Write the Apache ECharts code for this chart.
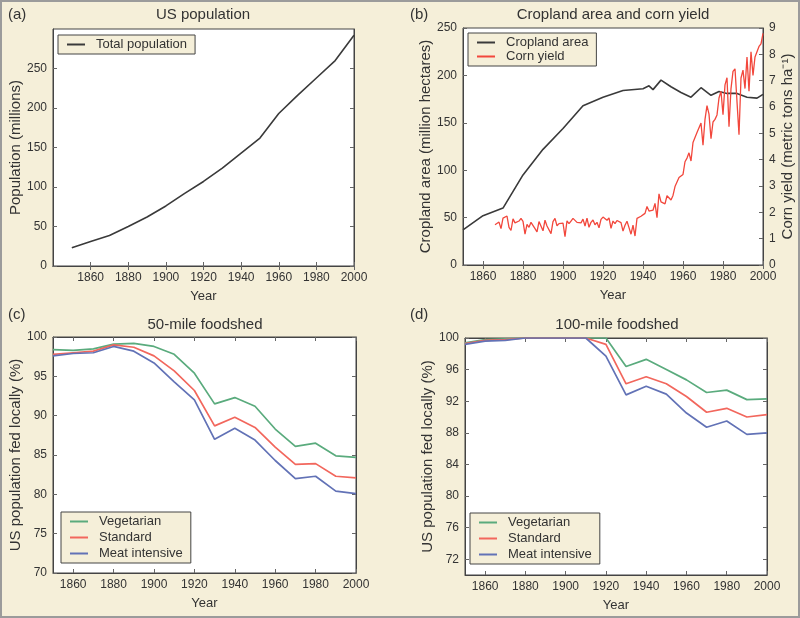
<!DOCTYPE html>
<html>
<head>
<meta charset="utf-8">
<script src="https://cdn.jsdelivr.net/npm/echarts@6/dist/echarts.min.js"></script>
<style>html,body{margin:0;padding:0;background:#f5efd9;}#c{width:800px;height:618px;}</style>
</head>
<body>
<div id="c"></div>
<script>
// ---------- DATA ----------
const decadeYears = [1850,1860,1870,1880,1890,1900,1910,1920,1930,1940,1950,1960,1970,1980,1990,2000];
const totalPopulation = [23,31,38.5,50,62,76,92,107,124,143,162,193,216,238,260,292];

const croplandYears = [1850,1860,1870,1880,1890,1900,1910,1920,1930,1940,1943,1945,1949,1954,1959,1964,1969,1974,1978,1982,1987,1992,1997,2000];
const croplandArea  = [37,52,60,95,122,144,168,177,184,186,189,185,195,188,182,177,187,179,183,181,181,177,176,180];

const cornFirstYear = 1866;
const cornYield = [
 1.53,1.48,1.63,1.38,1.78,1.75,1.86,1.43,1.31,1.75,
 1.60,1.60,1.67,1.77,1.66,1.17,1.54,1.43,1.62,1.66,
 1.38,1.26,1.65,1.70,1.30,1.70,1.48,1.42,1.19,1.65,
 1.77,1.49,1.57,1.63,1.59,1.08,1.68,1.57,1.67,1.77,
 1.84,1.62,1.60,1.60,1.74,1.48,1.78,1.43,1.62,1.71,
 1.53,1.62,1.41,1.73,1.82,1.78,1.70,1.79,1.39,1.67,
 1.57,1.69,1.65,1.61,1.29,1.51,1.66,1.42,1.17,1.51,
 1.10,1.77,1.74,1.85,1.81,1.96,2.22,2.05,2.07,2.08,
 2.34,1.80,2.70,2.40,2.40,2.32,2.63,2.56,2.47,2.64,
 2.98,3.03,3.32,3.33,3.44,3.92,4.06,4.26,3.95,4.65,
 4.59,5.03,4.99,5.39,4.55,5.53,6.05,5.73,4.80,5.43,
 5.53,5.70,6.34,6.60,5.71,6.84,7.11,5.25,6.70,7.35,
 7.45,7.45,4.95,7.10,7.40,6.70,7.90,6.60,8.10,7.20,
 7.90,7.95,8.30,8.40,8.80
];

const vegetarian50 = [98.4,98.3,98.5,99.1,99.2,98.8,97.8,95.4,91.5,92.3,91.2,88.3,86.1,86.5,84.9,84.7];
const standard50   = [97.8,98.0,98.2,99.0,98.7,97.6,95.7,93.2,88.7,89.8,88.5,86.0,83.8,83.9,82.3,82.1];
const meat50       = [97.6,97.9,98.0,98.8,98.2,96.7,94.3,92.0,87.0,88.4,86.9,84.3,82.0,82.3,80.4,80.1];

const vegetarian100 = [99.4,99.8,99.9,100,100,100,100,100,96.4,97.3,96.0,94.7,93.1,93.4,92.2,92.3];
const standard100   = [99.3,99.7,99.8,100,100,100,100,99.2,94.2,95.1,94.2,92.6,90.6,91.1,90.0,90.3];
const meat100       = [99.2,99.6,99.7,100,100,100,100,97.7,92.8,93.9,92.9,90.5,88.7,89.5,87.8,88.0];

const yearTicks = [1860,1880,1900,1920,1940,1960,1980,2000];
const popTicks = [0,50,100,150,200,250];
const cropTicks = [0,50,100,150,200,250];
const cornTicks = [0,1,2,3,4,5,6,7,8,9];
const feed50Ticks = [70,75,80,85,90,95,100];
const feed100Ticks = [72,76,80,84,88,92,96,100];

// ---------- STYLE ----------
const FONT = 'Liberation Sans, Arial, Helvetica, sans-serif';
const BG = '#f5efd9';
const TXT = '#333';
const FRAME = '#444';
const GREEN = '#5aab7d', RED = '#f2675d', BLUE = '#6272b6', CORNRED = '#f2473c', DARK = '#3a3a3a';

const pair = (xs, ys) => xs.map((x, i) => [x, ys[i]]);
const cornPairs = cornYield.map((v, i) => [cornFirstYear + i, v]);

const grids = [
  {left:53, top:29, width:301, height:237},
  {left:463, top:28, width:300, height:237},
  {left:53, top:337, width:303, height:236},
  {left:465, top:338, width:302, height:237}
];

const tickStyle = {inside:true, length:4, lineStyle:{color:'#666', width:1}};
const lineStyleAxis = {show:true, lineStyle:{color:FRAME, width:1}};
const labelStyle = {color:TXT, fontSize:12, fontFamily:FONT, margin:6, formatter: v => String(v)};

function xAxes(g, min, max, ticks) {
  return [
    {type:'value', gridIndex:g, min, max, position:'bottom',
     axisLine:lineStyleAxis, splitLine:{show:false},
     axisTick:Object.assign({customValues:ticks}, tickStyle),
     axisLabel:Object.assign({customValues:ticks}, labelStyle),
     name:'Year', nameLocation:'middle', nameGap:24,
     nameTextStyle:{color:TXT, fontSize:13, fontFamily:FONT}},
    {type:'value', gridIndex:g, min, max, position:'top',
     axisLine:lineStyleAxis, splitLine:{show:false},
     axisTick:Object.assign({customValues:ticks}, tickStyle),
     axisLabel:{show:false}}
  ];
}
function yAxis(g, min, max, ticks, pos, name, gap, showLabels) {
  return {type:'value', gridIndex:g, min, max, position:pos,
    axisLine:lineStyleAxis, splitLine:{show:false},
    axisTick:Object.assign({customValues:ticks}, tickStyle),
    axisLabel:showLabels ? Object.assign({customValues:ticks}, labelStyle) : {show:false},
    name:name || '', nameLocation:'middle', nameGap:gap || 0, nameRotate:90,
    nameTextStyle:{color:TXT, fontSize:15, fontFamily:FONT}};
}

const xAxis = [].concat(
  xAxes(0, 1840, 2000, yearTicks),
  xAxes(1, 1850, 2000, yearTicks),
  xAxes(2, 1850, 2000, yearTicks),
  xAxes(3, 1850, 2000, yearTicks)
);
const yAxisArr = [
  yAxis(0, 0, 300, popTicks, 'left', 'Population (millions)', 26, true),
  yAxis(0, 0, 300, popTicks, 'right', '', 0, false),
  yAxis(1, 0, 250, cropTicks, 'left', 'Cropland area (million hectares)', 24, true),
  yAxis(1, 0, 9, cornTicks, 'right', 'Corn yield (metric tons ha\u207B\u00B9)', 17, true),
  yAxis(2, 70, 100, feed50Ticks, 'left', 'US population fed locally (%)', 25, true),
  yAxis(2, 70, 100, feed50Ticks, 'right', '', 0, false),
  yAxis(3, 70, 100, feed100Ticks, 'left', 'US population fed locally (%)', 27, true),
  yAxis(3, 70, 100, feed100Ticks, 'right', '', 0, false)
];

function line(name, data, xi, yi, color, width) {
  return {type:'line', name, data, xAxisIndex:xi, yAxisIndex:yi, showSymbol:false, symbol:'none',
    lineStyle:{color, width:width || 1.5}, itemStyle:{color}, silent:true, animation:false, clip:true};
}

const series = [
  line('Total population', pair(decadeYears, totalPopulation), 0, 0, DARK, 1.6),
  line('Cropland area', pair(croplandYears, croplandArea), 2, 2, DARK, 1.6),
  line('Corn yield', cornPairs, 2, 3, CORNRED, 1.3),
  line('Vegetarian', pair(decadeYears, vegetarian50), 4, 4, GREEN, 1.7),
  line('Standard', pair(decadeYears, standard50), 4, 4, RED, 1.7),
  line('Meat intensive', pair(decadeYears, meat50), 4, 4, BLUE, 1.7),
  line('Vegetarian', pair(decadeYears, vegetarian100), 6, 6, GREEN, 1.7),
  line('Standard', pair(decadeYears, standard100), 6, 6, RED, 1.7),
  line('Meat intensive', pair(decadeYears, meat100), 6, 6, BLUE, 1.7)
];

function legend(names, left, top, gap) {
  return {data:names, orient:'vertical', left, top, backgroundColor:BG, borderColor:FRAME, borderWidth:1,
    padding:[3,8,3,9], itemGap:gap, itemWidth:18, itemHeight:2, icon:'rect', selectedMode:false,
    textStyle:{color:TXT, fontSize:13, fontFamily:FONT, padding:[0,0,0,6]}};
}

function txt(text, x, y, align, size) {
  return {type:'text', x, y, style:{text, fill:TXT, font:(size||13)+'px '+FONT, textAlign:align||'left', textVerticalAlign:'middle'}};
}

const option = {
  backgroundColor: BG,
  animation: false,
  grid: grids.map(g => Object.assign({show:true, backgroundColor:'#fff', borderColor:FRAME, borderWidth:1, outerBoundsMode:'none', containLabel:false}, g)),
  xAxis: xAxis,
  yAxis: yAxisArr,
  series: series,
  legend: [
    legend(['Total population'], 58, 35, 2),
    legend(['Cropland area','Corn yield'], 468, 33, 1),
    legend(['Vegetarian','Standard','Meat intensive'], 61, 512, 3),
    legend(['Vegetarian','Standard','Meat intensive'], 470, 513, 3)
  ],
  graphic: [
    {type:'rect', shape:{x:1, y:1, width:798, height:616}, style:{fill:'none', stroke:'#9b9b9b', lineWidth:2}, silent:true},
    txt('(a)', 8, 15, 'left', 15),
    txt('US population', 203, 15, 'center', 15),
    txt('(b)', 410, 15, 'left', 15),
    txt('Cropland area and corn yield', 613, 15, 'center', 15),
    txt('(c)', 8, 315, 'left', 15),
    txt('50-mile foodshed', 205, 325, 'center', 15),
    txt('(d)', 410, 315, 'left', 15),
    txt('100-mile foodshed', 617, 325, 'center', 15)
  ]
};

const chart = echarts.init(document.getElementById('c'), null, {renderer:'canvas'});
chart.setOption(option);
</script>
</body>
</html>
